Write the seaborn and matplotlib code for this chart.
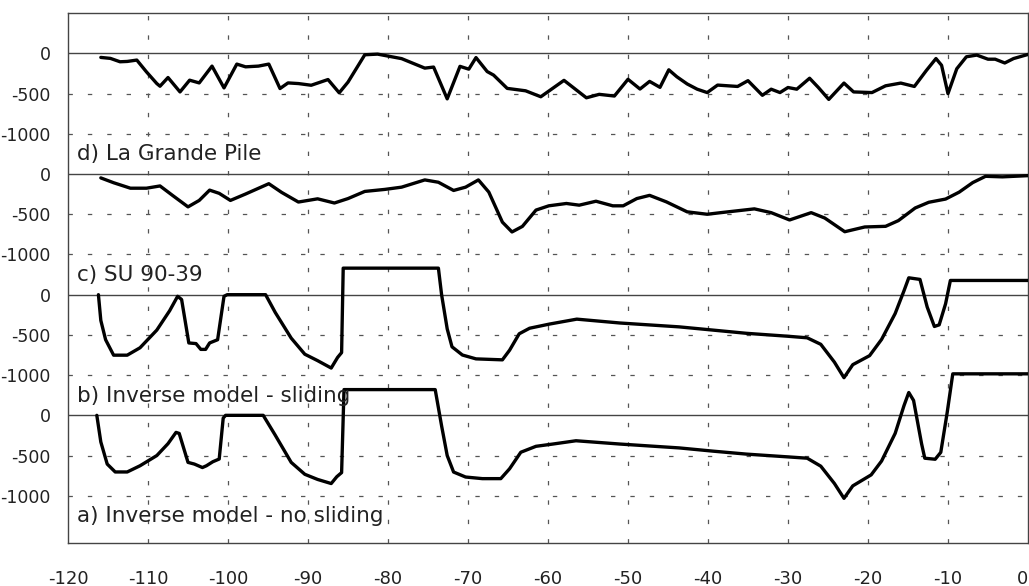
import matplotlib
matplotlib.use("Agg")
import matplotlib.pyplot as plt
import seaborn as sns
import pandas as pd

# ---------------- data ----------------
years_d = [-115.9, -114.7, -113.5, -112.6, -111.4, -110.2, -108.9, -108.5, -107.5, -106.0,
           -104.8, -103.6, -102.0, -100.5, -98.9, -97.8, -96.2, -94.9, -93.5, -92.5,
           -91.2, -89.6, -87.5, -86.1, -85.0, -82.9, -81.3, -78.3, -75.4, -74.3,
           -72.6, -71.0, -69.9, -69.0, -67.6, -66.8, -65.1, -62.8, -60.9, -58.0,
           -55.2, -53.6, -51.7, -50.0, -48.5, -47.3, -46.0, -44.9, -43.9, -42.6,
           -41.35, -40.1, -38.8, -36.3, -35.0, -33.2, -32.1, -31.0, -30.0, -28.9,
           -27.3, -26.2, -24.9, -23.0, -21.8, -19.5, -17.8, -15.9, -14.2, -12.7,
           -11.5, -10.8, -10.0, -8.9, -7.7, -6.4, -5.0, -4.1, -2.9, -1.8, 0]
vals_d = [-50, -62, -104, -100, -83, -229, -375, -408, -300, -479,
          -333, -367, -158, -429, -133, -167, -158, -133, -437, -367,
          -375, -396, -325, -490, -357, -17, -9, -65, -183, -170,
          -565, -161, -196, -52, -226, -270, -435, -465, -539, -335,
          -552, -509, -530, -322, -443, -348, -422, -204, -290, -380,
          -445, -487, -394, -411, -339, -521, -445, -487, -424, -445,
          -309, -424, -572, -369, -479, -487, -403, -369, -411, -212,
          -64, -148, -500, -191, -42, -21, -72, -72, -119, -64, -13]

years_c = [-115.9, -114.3, -112.2, -110.2, -108.5, -106.9, -105.0, -103.6, -102.3, -101.1,
           -99.7, -97.8, -94.9, -93.3, -91.2, -88.8, -86.7, -85.0, -82.9, -80.4,
           -78.3, -75.4, -73.7, -71.8, -70.3, -68.7, -67.4, -65.7, -64.5, -63.2,
           -61.5, -59.9, -57.7, -56.1, -54.0, -51.9, -50.6, -48.9, -47.3, -45.2,
           -42.6, -40.1, -38.4, -34.2, -32.1, -29.8, -27.1, -25.4, -22.9, -20.4,
           -17.8, -16.2, -14.1, -12.4, -10.3, -8.6, -6.9, -5.3, -3.2, 0]
vals_c = [-48, -108, -176, -176, -148, -268, -408, -328, -200, -240,
          -328, -248, -120, -228, -348, -308, -360, -305, -216, -191,
          -163, -73, -102, -204, -163, -73, -224, -598, -720, -651,
          -448, -395, -366, -387, -338, -395, -395, -305, -265, -346,
          -470, -500, -480, -433, -480, -571, -480, -547, -717, -658,
          -650, -579, -422, -351, -311, -225, -106, -28, -35, -20]

years_b = [-116.2, -115.9, -115.3, -114.3, -112.6, -111.0, -108.9, -107.3, -106.3, -105.8,
           -104.9, -104.0, -103.4, -102.8, -102.3, -101.3, -100.5, -100.1, -95.3, -94.1,
           -92.1, -90.4, -88.8, -87.1, -86.3, -85.8, -85.6, -73.7, -73.3, -72.6,
           -72.0, -70.7, -69.0, -65.7, -64.8, -63.6, -62.3, -59.8, -56.4, -51.0,
           -43.6, -39.4, -35.2, -30.1, -27.6, -25.9, -24.2, -23.0, -21.9, -19.8,
           -18.3, -16.6, -15.5, -14.9, -13.5, -12.6, -11.7, -11.1, -10.3, -9.7, 0]
vals_b = [0, -320, -560, -752, -752, -660, -440, -200, -20, -60,
          -600, -608, -680, -680, -600, -560, -20, 0, 0, -220,
          -540, -740, -820, -912, -780, -720, 330, 330, 0, -425,
          -648, -750, -798, -810, -690, -486, -417, -365, -304, -352,
          -400, -440, -480, -516, -536, -617, -838, -1032, -870, -758,
          -556, -234, 48, 210, 190, -153, -395, -375, -113, 177, 177]

years_a = [-116.4, -115.9, -115.1, -114.1, -112.6, -111.0, -108.9, -107.5, -106.5, -106.1,
           -105.0, -104.2, -103.2, -102.7, -101.9, -101.1, -100.6, -100.3, -95.6, -94.1,
           -92.1, -90.4, -88.8, -87.1, -86.4, -85.8, -85.5, -74.1, -73.3, -72.6,
           -71.8, -70.3, -68.2, -65.9, -64.8, -63.4, -61.5, -59.4, -56.5, -51.0,
           -43.6, -39.4, -35.2, -30.1, -27.6, -25.9, -24.2, -23.0, -21.9, -19.6,
           -18.3, -16.6, -15.5, -14.9, -14.3, -13.3, -12.9, -11.6, -10.9, -10.1, -9.4, 0]
vals_a = [0, -331, -606, -704, -704, -627, -500, -352, -212, -225,
          -585, -606, -649, -627, -577, -543, -34, 0, 0, -246,
          -585, -733, -797, -848, -763, -712, 320, 320, -131, -500,
          -705, -767, -787, -787, -664, -459, -385, -357, -316, -357,
          -405, -445, -482, -516, -533, -632, -847, -1032, -877, -740,
          -568, -224, 120, 284, 185, -353, -533, -546, -460, 34, 516, 516]

panel_labels = ["d) La Grande Pile", "c) SU 90-39",
                "b) Inverse model - sliding", "a) Inverse model - no sliding"]
panel_offsets = [0, -1500, -3000, -4500]
ytick_values = [0, -500, -1000]
xtick_values = list(range(-120, 1, 10))

# ---------------- figure ----------------
sns.set_style("white")
plt.rcParams['font.family'] = ['DejaVu Sans']

fig = plt.figure(figsize=(10.29, 5.86), dpi=100)
ax = fig.add_axes([0.0661, 0.073, 0.9329, 0.9045])

series = [(years_d, vals_d), (years_c, vals_c), (years_b, vals_b), (years_a, vals_a)]

grid_c = '#555555'
dash = (0, (3.5, 12))
# vertical dashed grid
for xv in xtick_values[1:-1]:
    ax.axvline(xv, color=grid_c, lw=0.9, ls=dash, zorder=1)
# horizontal lines
for off in panel_offsets:
    ax.axhline(off, color='#444444', lw=1.0, zorder=1)
    for yv in ytick_values[1:]:
        ax.axhline(off + yv, color=grid_c, lw=0.9, ls=dash, zorder=1)

for (yrs, vals), off, lab in zip(series, panel_offsets, panel_labels):
    df = pd.DataFrame({"year": yrs, "value": vals})
    df["shifted"] = df["value"] + off
    sns.lineplot(data=df, x="year", y="shifted", ax=ax, color='black', lw=2.4,
                 sort=False, estimator=None, zorder=3)
    ax.text(-118.9, off - 1255, lab, fontsize=15.5, color='#222222',
            ha='left', va='center', zorder=4)

ax.set_xlim(-120, 0)
ax.set_ylim(-6090, 500)

yt = [off + v for off in panel_offsets for v in ytick_values]
ytl = [str(v) for off in panel_offsets for v in ytick_values]
ax.set_yticks(yt)
ax.set_yticklabels(ytl)
ax.set_xticks(xtick_values)
ax.set_xticklabels([str(v) for v in xtick_values])
ax.set_xlabel("")
ax.set_ylabel("")

ax.tick_params(axis='both', direction='inout', length=9, width=1, colors='#333333',
               labelsize=12.5, labelcolor='#222222')
ax.tick_params(axis='x', pad=12, length=14, labelsize=13)
ax.tick_params(axis='y', pad=8)
# keep the last x label ("0") inside the figure edge
ax.get_xticklabels()[-1].set_horizontalalignment('right')

for s in ax.spines.values():
    s.set_visible(True)
    s.set_color('#444444')
    s.set_linewidth(1.0)

fig.savefig("out.png", dpi=100, facecolor='white')
